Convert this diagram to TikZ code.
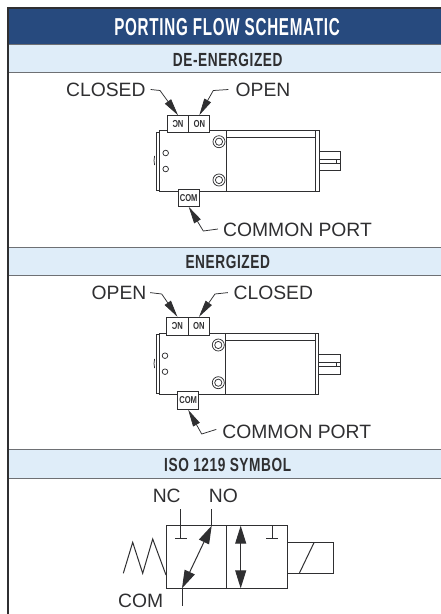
\documentclass[tikz,border=0pt]{standalone}
\usepackage{fontspec}
\setmainfont{Liberation Sans}
\newfontfamily\titlefont[FakeStretch=0.62,LetterSpace=3,BoldFont={Liberation Sans Bold}]{Liberation Sans}
\newfontfamily\bandfont[FakeStretch=0.72,LetterSpace=3,BoldFont={Liberation Sans Bold}]{Liberation Sans}
\newfontfamily\portfont[FakeStretch=0.76,BoldFont={Liberation Sans Bold}]{Liberation Sans}
\usetikzlibrary{arrows.meta}
\definecolor{ink}{HTML}{2F2F31}
\definecolor{headblue}{HTML}{274A7E}
\definecolor{bandblue}{HTML}{DFEDF9}
\definecolor{rule}{HTML}{6E7074}
\tikzset{
  x=1pt,y=-1pt,
  sepline/.style={draw=rule,line width=1pt},
  title/.style={inner sep=0,text=white,font=\titlefont\bfseries\fontsize{24.5}{24.5}\selectfont},
  subtitle/.style={inner sep=0,text=ink,font=\bandfont\bfseries\fontsize{19}{19}\selectfont},
  lbl/.style={inner sep=0,text=ink,font=\fontsize{19.3}{19.3}\selectfont},
  port/.style={draw=ink,line width=1pt,fill=white,inner sep=0,minimum width=21.3pt,text=ink,font=\portfont\bfseries\fontsize{10}{10}\selectfont},
  leader/.style={draw=ink,line width=0.75pt,-{Triangle[length=17pt,width=7.5pt]}},
  outline/.style={draw=ink,line width=1pt},
  heavy/.style={draw=ink,line width=1.5pt},
  thin/.style={draw=ink,line width=0.75pt},
  sym/.style={draw=ink,line width=1pt},
  dbl/.style={draw=ink,line width=1pt,{Triangle[length=18pt,width=11pt]}-{Triangle[length=18pt,width=11pt]}},
}
\begin{document}
\begin{tikzpicture}
\useasboundingbox (0,0) rectangle (441,614);
\fill[white] (0,0) rectangle (441,614);
% table
\fill[headblue] (8,9) rectangle (441,44.5);
\fill[bandblue] (8,45) rectangle (441,72.5);
\fill[bandblue] (8,247) rectangle (441,275.5);
\fill[bandblue] (8,449) rectangle (441,478);
\draw[sepline] (8,44.5) -- (441,44.5);
\draw[sepline] (8,72.8) -- (441,72.8);
\draw[sepline] (8,247) -- (441,247);
\draw[sepline] (8,275.7) -- (441,275.7);
\draw[sepline] (8,449) -- (441,449);
\draw[sepline] (8,478) -- (441,478);
\draw[draw=ink,line width=1.6pt] (8,614) -- (8,8.2) -- (441,8.2);
\node[title] (t0) at (227,27) {PORTING FLOW SCHEMATIC};
\node[subtitle] (t1) at (227.7,60) {DE-ENERGIZED};
\node[subtitle] (t2) at (227.7,262) {ENERGIZED};
\node[subtitle] (t3) at (227.7,464.5) {ISO 1219 SYMBOL};

% de-energized valve
\draw[outline] (156,132.7) rectangle (159.3,190.7);
\draw[outline] (159.3,130.7) rectangle (319.3,191.3);
\draw[thin] (154.6,156) .. controls (153.8,159) and (153.8,162) .. (154.6,165);
\draw[outline] (226,130.7) -- (226,191.3);
\draw[outline] (315,130.7) -- (315,191.3);
\draw[heavy] (226,137.3) -- (315,137.3);
\draw[thin] (219,141.7) circle (6); \draw[thin] (219,141.7) circle (3.6);
\draw[thin] (219,180) circle (6); \draw[thin] (219,180) circle (3.6);
\draw[thin] (165.7,153) circle (2.8); \draw[thin] (165.7,169) circle (2.8);
\draw[outline] (319.3,151.7) -- (340.7,151.7) -- (340.7,170.3) -- (319.3,170.3);
\draw[thin] (319.3,159.3) -- (340.7,159.3); \draw[thin] (319.3,163.7) -- (340.7,163.7);
\draw[thin] (336.7,159.3) -- (336.7,163.7);
\node[port,minimum height=17pt] (nc1) at (178,124.2) {\rotatebox{180}{NC}};
\node[port,minimum height=17pt] (no1) at (199.3,124.2) {\rotatebox{180}{NO}};
\node[port,minimum height=17pt] (com1) at (188.7,197.8) {COM};
\node[lbl] (closed1) at (105.8,90) {CLOSED};
\node[lbl] (open1) at (263,90) {OPEN};
\node[lbl] (common1) at (297.5,230) {COMMON PORT};
\coordinate (b1) at (160,90.5);
\coordinate (b2) at (213.3,90.5);
\coordinate (b3) at (203.3,231);
\draw[leader] ([xshift=5pt,yshift=.5pt]closed1.east) -- (b1) -- (nc1.north);
\draw[leader] ([xshift=-7pt,yshift=.5pt]open1.west) -- (b2) -- (no1.north);
\draw[leader] ([xshift=-5pt,yshift=1pt]common1.west) -- (b3) -- (com1.south);

% energized valve
\draw[outline] (156,334) rectangle (159,393.5);
\draw[outline] (159,333.3) rectangle (318.3,394.3);
\draw[thin] (154.6,359) .. controls (153.8,362) and (153.8,365) .. (154.6,368);
\draw[outline] (225.7,333.3) -- (225.7,394.3);
\draw[outline] (315,333.3) -- (315,394.3);
\draw[outline] (225.7,340.7) -- (315,340.7);
\draw[thin] (218.3,345) circle (6); \draw[thin] (218.3,345) circle (3.6);
\draw[thin] (218.3,382.7) circle (6); \draw[thin] (218.3,382.7) circle (3.6);
\draw[thin] (165,355.7) circle (2.8); \draw[thin] (165,371.7) circle (2.8);
\draw[outline] (318.3,354) -- (340.7,354) -- (340.7,374.3) -- (318.3,374.3);
\draw[thin] (318.3,362.7) -- (340.7,362.7); \draw[thin] (318.3,366) -- (340.7,366);
\draw[thin] (336.7,362.7) -- (336.7,366);
\node[port,minimum height=18pt] (nc2) at (177.4,326.3) {\rotatebox{180}{NC}};
\node[port,minimum height=18pt] (no2) at (199,326.3) {\rotatebox{180}{NO}};
\node[port,minimum height=17.6pt] (com2) at (188.2,400.5) {COM};
\node[lbl] (open2) at (119,293.3) {OPEN};
\node[lbl] (closed2) at (273.3,293.3) {CLOSED};
\node[lbl] (common2) at (296.8,431.7) {COMMON PORT};
\coordinate (b4) at (161.7,294);
\coordinate (b5) at (215,294);
\coordinate (b6) at (201.7,434);
\draw[leader] ([xshift=3.5pt,yshift=.7pt]open2.east) -- (b4) -- (nc2.north);
\draw[leader] ([xshift=-5.5pt,yshift=.7pt]closed2.west) -- (b5) -- (no2.north);
\draw[leader] ([xshift=-6pt,yshift=2.3pt]common2.west) -- (b6) -- (com2.south);

% ISO symbol
\node[lbl] (nc3) at (166.7,496) {NC};
\node[lbl] (no3) at (223.3,496) {NO};
\node[lbl] (com3) at (140.7,601) {COM};
\draw[sym] (166,525.7) rectangle (287,588.3);
\draw[sym] (226.7,525.7) -- (226.7,588.3);
\draw[sym] (180.7,509.3) -- (180.7,538.7);
\draw[sym] (175,538.7) -- (186.7,538.7);
\draw[sym] (211.7,509.3) -- (211.7,525.7);
\draw[sym] (182,588.3) -- (182,606);
\draw[dbl] (182,588.3) -- (211.7,525.7);
\draw[dbl] (240.7,525.7) -- (240.7,588.3);
\draw[sym] (272,525.7) -- (272,538.7);
\draw[sym] (266,538.7) -- (278.3,538.7);
\draw[sym] (123.3,573.3) -- (132.7,542.3) -- (142.7,573.3) -- (152.7,539) -- (166,575);
\draw[sym] (287,542.7) -- (333.3,542.7) -- (333.3,573.3) -- (287,573.3);
\draw[sym] (299.3,573.3) -- (314,542.7);
\end{tikzpicture}
\end{document}
